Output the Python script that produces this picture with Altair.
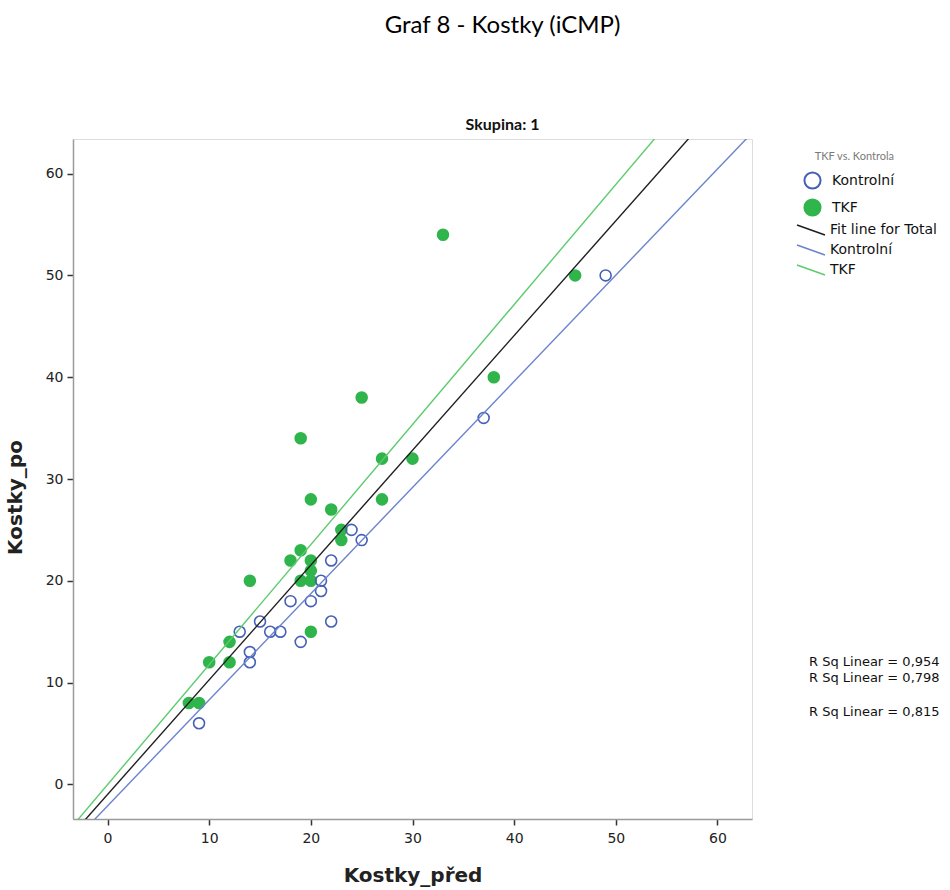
import altair as alt
import pandas as pd

# Kontrolní group (open blue circles)
kon_x = [49, 37, 24, 25, 22, 21, 21, 18, 20, 15, 22, 13, 16, 17, 19, 14, 14, 9]
kon_y = [50, 36, 25, 24, 22, 20, 19, 18, 18, 16, 16, 15, 15, 15, 14, 13, 12, 6]
# TKF group (filled green circles)
tkf_x = [46, 33, 38, 25, 19, 27, 30, 20, 27, 22, 23, 23, 19, 18, 20, 20, 19, 20, 14, 20, 12, 10, 12, 8, 9]
tkf_y = [50, 54, 40, 38, 34, 32, 32, 28, 28, 27, 25, 24, 23, 22, 22, 21, 20, 20, 20, 15, 14, 12, 12, 8, 8]

groups = ["Kontrolní", "TKF"]
fit_labels = ["Fit line for Total", "Kontrolní", "TKF"]
r2_top = ["R Sq Linear = 0,954", "R Sq Linear = 0,798"]
r2_bottom = ["R Sq Linear = 0,815"]
ticks = [0, 10, 20, 30, 40, 50, 60]

point_stroke = ["#4660b6", "#2fb54b"]
point_fill = ["transparent", "#2fb54b"]
line_colors = ["#1e1e1e", "#6a83cc", "#5ccb6e"]

df = pd.DataFrame({
    "pred": tkf_x + kon_x,
    "po": tkf_y + kon_y,
    "group": ["TKF"] * len(tkf_x) + ["Kontrolní"] * len(kon_x),
})

dom = [-3.4, 63.4]

axis_common = dict(
    values=ticks, grid=False, domainColor="#9a9a9a", domainWidth=1.5,
    tickColor="#333333", tickSize=6, tickWidth=1.5,
    labelFont="DejaVu Sans", labelFontSize=14, labelColor="#222222",
    titleFont="DejaVu Sans", titleFontSize=20, titleFontWeight="bold", titleColor="#222222",
)

xenc = alt.X("pred:Q", title="Kostky_před",
             scale=alt.Scale(domain=dom, nice=False, zero=False),
             axis=alt.Axis(titlePadding=20, labelPadding=6, **axis_common))
yenc = alt.Y("po:Q", title="Kostky_po",
             scale=alt.Scale(domain=dom, nice=False, zero=False),
             axis=alt.Axis(titlePadding=20, labelPadding=4, titleY=358, **axis_common))

pt_legend = alt.Legend(
    orient="none", legendX=730, legendY=12,
    title="TKF vs. Kontrola", titleFont="Lato", titleFontSize=11,
    titleFontWeight="normal", titleColor="#7a7a7a", titleAnchor="end", titlePadding=9,
    labelFont="DejaVu Sans", labelFontSize=14, labelColor="#111111",
    symbolSize=260, symbolStrokeWidth=2, rowPadding=2, labelOffset=10,
)

points = alt.Chart(df).mark_point(filled=False, size=120, strokeWidth=1.6, opacity=1).encode(
    x=xenc, y=yenc,
    color=alt.Color("group:N", scale=alt.Scale(domain=groups, range=point_stroke), legend=pt_legend),
    fill=alt.Fill("group:N", scale=alt.Scale(domain=groups, range=point_fill), legend=pt_legend),
)

line_legend = alt.Legend(
    orient="none", legendX=727, legendY=80, title=None,
    labelFont="DejaVu Sans", labelFontSize=14, labelColor="#111111",
    symbolType="M -1.4 -0.5 L 1.4 0.5", symbolSize=400, symbolStrokeWidth=1.5,
    rowPadding=1, labelOffset=8,
)

stroke_enc = alt.Stroke("fit:N", scale=alt.Scale(domain=fit_labels, range=line_colors), legend=line_legend)

group_fit = alt.Chart(df).transform_regression(
    "pred", "po", groupby=["group"], extent=dom
).transform_calculate(fit="datum.group").mark_line(clip=True, strokeWidth=1.4).encode(
    x="pred:Q", y="po:Q", stroke=stroke_enc, detail="fit:N"
)

total_fit = alt.Chart(df).transform_regression(
    "pred", "po", extent=dom
).transform_calculate(fit="'Fit line for Total'").mark_line(clip=True, strokeWidth=1.4).encode(
    x="pred:Q", y="po:Q", stroke=stroke_enc
)

r2a = alt.Chart(pd.DataFrame({"t": [r2_top]})).mark_text(
    align="left", baseline="middle", font="DejaVu Sans", fontSize=13, lineHeight=15.5, color="#111111"
).encode(text="t", x=alt.value(736), y=alt.value(523))
r2b = alt.Chart(pd.DataFrame({"t": r2_bottom})).mark_text(
    align="left", baseline="middle", font="DejaVu Sans", fontSize=13, color="#111111"
).encode(text="t:N", x=alt.value(736), y=alt.value(573))

chart = alt.layer(points, total_fit, group_fit, r2a, r2b).properties(
    width=679, height=680,
    autosize=alt.AutoSizeParams(type="none"),
    padding={"left": 73, "top": 139, "right": 198, "bottom": 71},
    title=alt.TitleParams(
        text="Graf 8 - Kostky (iCMP)", subtitle="Skupina: 1",
        font="Lato", fontSize=24, fontWeight="normal", color="#000000",
        subtitleFont="Lato", subtitleFontSize=16, subtitleFontWeight="bold", subtitleColor="#111111",
        subtitlePadding=79, anchor="middle", dx=90, offset=6,
    ),
).configure_view(stroke=None).configure(background="white")

chart.save("out.html", embed_options={"renderer": "svg", "actions": False})
